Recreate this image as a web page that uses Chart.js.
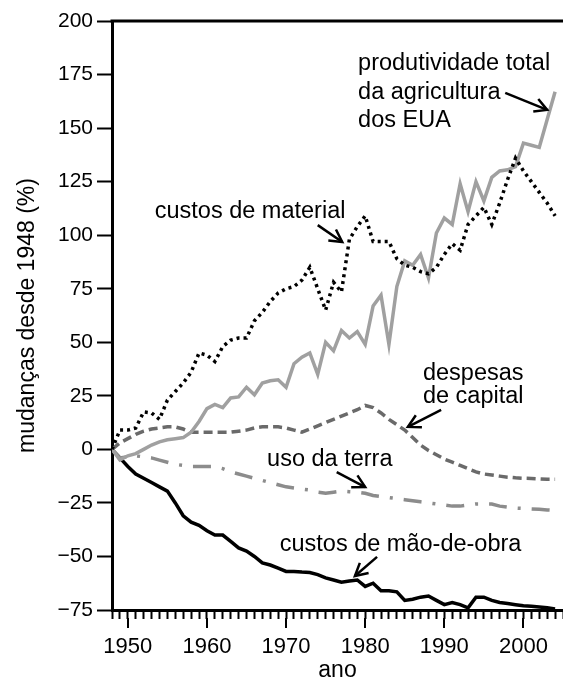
<!DOCTYPE html>
<html>
<head>
<meta charset="utf-8">
<script src="https://cdn.jsdelivr.net/npm/chart.js@4.4.1/dist/chart.umd.min.js"></script>
<style>
  html, body { margin: 0; padding: 0; background: #fff; }
  #wrap { width: 563px; height: 682px; position: relative; }
</style>
</head>
<body>
<div id="wrap"><canvas id="chart"></canvas></div>
<script>
// anos 1948..2004
const years = [1948, 1949, 1950, 1951, 1952, 1953, 1954, 1955, 1956, 1957, 1958, 1959,
  1960, 1961, 1962, 1963, 1964, 1965, 1966, 1967, 1968, 1969,
  1970, 1971, 1972, 1973, 1974, 1975, 1976, 1977, 1978, 1979,
  1980, 1981, 1982, 1983, 1984, 1985, 1986, 1987, 1988, 1989,
  1990, 1991, 1992, 1993, 1994, 1995, 1996, 1997, 1998, 1999,
  2000, 2001, 2002, 2003, 2004];

const produtividade = [0, -5, -3, -2, 0, 2, 3.5, 4.5, 5, 5.5, 8, 13,
  19, 21, 19.5, 24, 24.5, 29, 25.5, 31, 32, 32.5,
  29, 40, 43, 45, 35, 50, 46, 55.5, 52, 55,
  49, 67, 72, 49, 76, 88, 86, 91, 80, 101,
  108, 105, 124, 111, 125, 116, 127, 130, 130.5, 132,
  143, 142, 141, 154, 167];

const material = [0, 9, 9, 10, 17.5, 17, 14, 23, 27, 31, 36, 45,
  44, 41, 48, 51, 52, 52, 60, 64, 69, 73,
  75, 76, 79, 85, 75, 65, 78, 73.5, 98, 104,
  109, 97, 97, 97, 89, 86, 85, 83, 82, 85,
  91, 96, 93, 105, 109, 113, 105, 115, 126, 136,
  130, 125, 120, 115, 109];

const capital = [0, 3, 5, 7, 8.5, 9.5, 10, 10.5, 10.5, 9.5, 8, 8,
  8, 8, 8, 8, 8.5, 9, 10, 10.5, 10.5, 10.5,
  10, 9, 8, 9.5, 11, 12.5, 14, 15.5, 17, 18.5,
  20.5, 19.5, 17, 14, 11.5, 9, 5.5, 2, -0.5, -2.5,
  -4.5, -6, -7.5, -9, -10.5, -11.5, -12, -12.5, -13, -13.3,
  -13.5, -13.6, -13.8, -14, -14];

const terra = [0, -4, -3.5, -3, -3.5, -4, -5, -6, -7, -7.5, -8, -8,
  -8, -8, -9, -10.5, -11.5, -12.5, -13.5, -14.5, -15.5, -16.5,
  -17.5, -18, -18.5, -19, -20, -20.5, -20, -19.5, -19.8, -20,
  -20.5, -21.5, -22, -22.5, -23, -23.5, -24, -24.5, -25, -25.5,
  -26, -26.5, -26.5, -26, -25.5, -25.5, -25.5, -26.5, -27, -27.4,
  -27.6, -27.8, -28, -28.3, -28.5];

const maoDeObra = [0, -4, -8, -11.5, -13.5, -15.5, -17.5, -19.5, -25, -31, -34, -35.5,
  -38, -40, -40, -43, -46, -47.5, -50, -53, -54, -55.5,
  -57, -57, -57.3, -57.5, -58.5, -60, -61, -62, -61.5, -61,
  -64, -62.5, -66, -66, -66.5, -70.5, -70, -69, -68.5, -70.5,
  -72.5, -71.5, -72.5, -74, -69, -69, -70.5, -71.5, -72, -72.5,
  -73, -73.3, -73.6, -74, -74.5];

const yTicks = [-75, -50, -25, 0, 25, 50, 75, 100, 125, 150, 175, 200];

// anotações em unidades de dados (ano, %)
const notes = [
  { lines: ['produtividade total', 'da agricultura', 'dos EUA'], x: 1979.1, y: [177.1, 163.8, 150.5], from: [1997.7, 166.4], to: [2003.0, 158.5] },
  { lines: ['custos de material'], x: 1953.4, y: [108.0], from: [1974.0, 104.7], to: [1977.1, 96.8] },
  { lines: ['despesas', 'de capital'], x: 1987.3, y: [32.4, 21.7], from: [1989.6, 18.4], to: [1985.4, 10.5] },
  { lines: ['uso da terra'], x: 1967.6, y: [-7.7], from: [1976.4, -10.6], to: [1980.0, -17.6] },
  { lines: ['custos de mão-de-obra'], x: 1969.2, y: [-47.4], from: [1981.5, -50.2], to: [1978.7, -59.1] }
];

const FONT = '"Liberation Sans", Arial, Helvetica, sans-serif';

function pts(vals) {
  return years.map((yr, i) => ({ x: yr, y: vals[i] }));
}

const annotate = {
  id: 'annotate',
  afterDraw(chart) {
    const ctx = chart.ctx;
    const xs = chart.scales.x;
    const ys = chart.scales.y;
    const area = chart.chartArea;
    ctx.save();
    // moldura superior
    ctx.strokeStyle = '#000';
    ctx.lineWidth = 3;
    ctx.beginPath();
    ctx.moveTo(area.left - 1.5, area.top);
    ctx.lineTo(chart.width, area.top);
    ctx.stroke();
    // marcas longas nas décadas
    ctx.lineWidth = 2;
    years.forEach(yr => {
      if (yr % 10 === 0) {
        const px = Math.round(xs.getPixelForValue(yr));
        ctx.beginPath();
        ctx.moveTo(px, area.bottom + 8);
        ctx.lineTo(px, area.bottom + 18);
        ctx.stroke();
      }
    });
    // textos e setas
    ctx.fillStyle = '#000';
    ctx.font = '23.5px ' + FONT;
    ctx.textBaseline = 'alphabetic';
    ctx.textAlign = 'left';
    notes.forEach(n => {
      n.lines.forEach((t, i) => {
        ctx.fillText(t, xs.getPixelForValue(n.x), ys.getPixelForValue(n.y[i]));
      });
      const x1 = xs.getPixelForValue(n.from[0]), y1 = ys.getPixelForValue(n.from[1]);
      const x2 = xs.getPixelForValue(n.to[0]), y2 = ys.getPixelForValue(n.to[1]);
      const ang = Math.atan2(y2 - y1, x2 - x1);
      ctx.lineWidth = 2.5;
      ctx.beginPath();
      ctx.moveTo(x1, y1);
      ctx.lineTo(x2, y2);
      ctx.stroke();
      ctx.beginPath();
      ctx.moveTo(x2 - 14 * Math.cos(ang - 0.5), y2 - 14 * Math.sin(ang - 0.5));
      ctx.lineTo(x2, y2);
      ctx.lineTo(x2 - 14 * Math.cos(ang + 0.5), y2 - 14 * Math.sin(ang + 0.5));
      ctx.stroke();
    });
    ctx.restore();
  }
};

new Chart(document.getElementById('chart'), {
  type: 'line',
  data: {
    datasets: [
      { label: 'custos de material', data: pts(material), borderColor: '#000', borderWidth: 3.5, borderDash: [3, 4] },
      { label: 'produtividade total', data: pts(produtividade), borderColor: '#a0a0a0', borderWidth: 3.5 },
      { label: 'despesas de capital', data: pts(capital), borderColor: '#6a6a6a', borderWidth: 3.5, borderDash: [9, 5] },
      { label: 'uso da terra', data: pts(terra), borderColor: '#8c8c8c', borderWidth: 3.5, borderDash: [18, 11, 3, 11] },
      { label: 'custos de mão-de-obra', data: pts(maoDeObra), borderColor: '#000', borderWidth: 3.5 }
    ]
  },
  options: {
    responsive: true,
    maintainAspectRatio: false,
    animation: false,
    layout: { padding: { top: 21, right: 0, left: 0, bottom: 0 } },
    elements: { point: { radius: 0 }, line: { tension: 0, fill: false } },
    plugins: { legend: { display: false }, tooltip: { enabled: false } },
    scales: {
      x: {
        type: 'linear',
        min: 1948,
        max: 2005,
        afterFit: s => { s.height = 72; s.paddingLeft = 0; s.paddingRight = 0; },
        grid: { drawOnChartArea: false, color: '#000', tickLength: 9, tickWidth: 2 },
        border: { color: '#000', width: 3 },
        ticks: {
          stepSize: 1,
          autoSkip: false,
          maxRotation: 0,
          padding: 15,
          color: '#000',
          font: { family: FONT, size: 22 },
          callback: v => (v % 10 === 0 ? String(v) : '')
        },
        title: { display: true, text: 'ano', color: '#000', font: { family: FONT, size: 23, lineHeight: 1 }, padding: { top: 0, bottom: 0 } }
      },
      y: {
        min: -75,
        max: 200,
        afterFit: s => { s.width = 112; s.paddingTop = 0; s.paddingBottom = 0; },
        afterBuildTicks: s => { s.ticks = yTicks.map(v => ({ value: v })); },
        grid: { drawOnChartArea: false, color: '#000', tickLength: 15, tickWidth: 2 },
        border: { color: '#000', width: 3 },
        ticks: {
          padding: 4,
          color: '#000',
          font: { family: FONT, size: 21 },
          callback: v => (v < 0 ? '\u2212' + Math.abs(v) : String(v))
        },
        title: { display: true, text: 'mudanças desde 1948 (%)', color: '#000', font: { family: FONT, size: 23, lineHeight: 1.2 }, padding: { top: 14, bottom: 0 } }
      }
    }
  },
  plugins: [annotate]
});
</script>
</body>
</html>
